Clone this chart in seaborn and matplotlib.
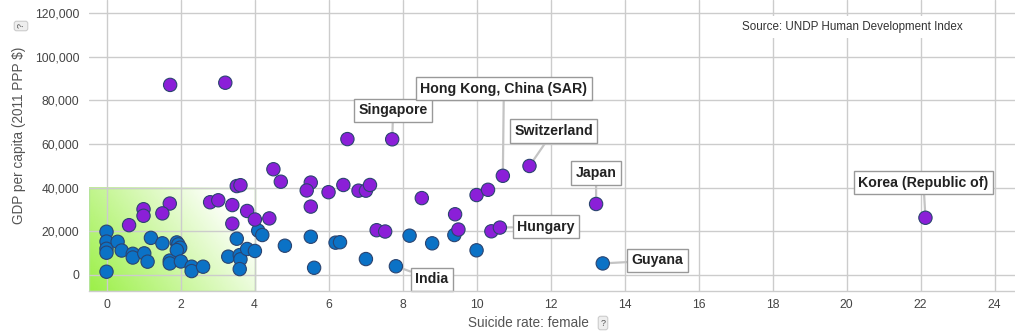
import numpy as np
import pandas as pd
import matplotlib
matplotlib.use("Agg")
import matplotlib.pyplot as plt
import seaborn as sns
from matplotlib.patches import Rectangle
from matplotlib.ticker import FuncFormatter, FixedLocator

# ---------------- data ----------------
purple_x = [1.72, 3.21, 4.51, 4.71, 3.52, 3.62, 2.80, 3.02, 1.71, 1.51, 1.00, 1.00,
            0.61, 3.40, 3.40, 3.80, 4.01, 4.40, 6.51, 7.72, 5.52, 5.41, 6.00, 6.40,
            6.81, 7.01, 7.12, 5.52, 8.52, 9.42, 9.51, 7.30, 7.53, 10.00, 10.31, 10.71,
            11.43, 10.40, 10.63, 13.23, 22.13]
purple_y = [87000, 88000, 48400, 42700, 40700, 41100, 33300, 34200, 32700, 28200, 30100, 27100,
            22800, 32000, 23500, 29300, 25400, 25900, 62200, 62100, 42300, 38700, 37900, 41200,
            38600, 38600, 41200, 31300, 35200, 27800, 20800, 20500, 19900, 36600, 39000, 45400,
            49900, 20000, 21700, 32500, 26200]

blue_x = [0.00, 0.00, 0.00, 0.00, 0.00, 0.30, 0.41, 0.71, 0.71, 1.02, 1.11, 1.20,
          1.51, 1.71, 1.71, 1.90, 1.94, 1.99, 1.90, 2.01, 2.30, 2.30, 2.61, 3.29,
          3.52, 3.60, 3.62, 3.60, 3.80, 4.01, 4.10, 4.21, 4.82, 5.52, 5.61, 6.19,
          6.31, 7.01, 7.82, 8.19, 8.80, 9.40, 10.00, 13.41]
blue_y = [19800, 15300, 12000, 10200, 1500, 15200, 11200, 9700, 8000, 9900, 6100, 17000,
          14500, 6600, 5300, 14900, 14000, 12500, 11400, 6200, 3800, 1800, 3800, 8400,
          16600, 9100, 7200, 2700, 11900, 11000, 20300, 18300, 13400, 17500, 3300, 14800,
          15000, 7300, 4000, 18000, 14500, 18300, 11300, 5300]

label_names = ["Singapore", "Hong Kong, China (SAR)", "Switzerland", "Japan",
               "Hungary", "Guyana", "India", "Korea (Republic of)"]
label_series = ["purple", "purple", "purple", "purple", "purple", "blue", "blue", "purple"]
label_index = [19, 35, 36, 39, 38, 43, 38, 40]

x_ticks = [0, 2, 4, 6, 8, 10, 12, 14, 16, 18, 20, 22, 24]
y_ticks = [0, 20000, 40000, 60000, 80000, 100000, 120000]
highlight_x = [None, 4]
highlight_y = [None, 40000]

x_title = "Suicide rate: female"
y_title = "GDP per capita (2011 PPP $)"
source = "Source: UNDP Human Development Index"

# ---------------- figure ----------------
sns.set_style("white")
plt.rcParams["font.family"] = ["Liberation Sans", "DejaVu Sans"]

W, H = 1015, 331
fig = plt.figure(figsize=(W / 100, H / 100), dpi=100)
ax = fig.add_axes([89 / W, 40 / H, (W - 89) / W, 291 / H])

xlim = (-0.473, 24.55)
ylim = (-7323, 125860)

df = pd.concat([
    pd.DataFrame({"x": blue_x, "y": blue_y, "group": "blue"}),
    pd.DataFrame({"x": purple_x, "y": purple_y, "group": "purple"}),
], ignore_index=True)

palette = {"blue": "#0b72c6", "purple": "#8b1fd8"}
sns.scatterplot(data=df, x="x", y="y", hue="group", palette=palette, s=92,
                edgecolor="#2b4470", linewidth=0.8, legend=False, ax=ax, zorder=3)

# gradient highlight box
x0, x1 = xlim[0], highlight_x[1]
y0, y1 = ylim[0], highlight_y[1]
nx, ny = 200, 100
u = np.linspace(0, 1, nx)[None, :]
v = np.linspace(0, 1, ny)[:, None]
alpha = np.clip(1 - 0.8 * u - 0.38 * v, 0, 1)
img = np.zeros((ny, nx, 4))
img[..., 0] = 155 / 255
img[..., 1] = 240 / 255
img[..., 2] = 70 / 255
img[..., 3] = alpha
ax.imshow(img, extent=[x0, x1, y0, y1], origin="lower", aspect="auto",
          zorder=0.2, interpolation="bilinear")
ax.add_patch(Rectangle((x0, y0), x1 - x0, y1 - y0, fill=False,
                       edgecolor="#b5e59a", lw=1.0, zorder=0.3))

ax.set_xlim(*xlim)
ax.set_ylim(*ylim)

ax.xaxis.set_major_locator(FixedLocator(x_ticks))
ax.yaxis.set_major_locator(FixedLocator(y_ticks))
ax.yaxis.set_major_formatter(FuncFormatter(lambda v, p: f"{int(v):,}"))
ax.grid(True, color="#cccccc", lw=1.0)
ax.set_axisbelow(True)
for s in ["left", "right", "top"]:
    ax.spines[s].set_visible(False)
ax.spines["bottom"].set_color("#cccccc")
ax.spines["bottom"].set_linewidth(1.0)

ax.tick_params(axis="y", length=5, width=1, color="#cccccc", pad=2,
               labelsize=8.7, labelcolor="#444444")
ax.tick_params(axis="x", length=0, pad=6, labelsize=8.7, labelcolor="#444444")
ax.set_xlabel("")
ax.set_ylabel("")

# axis titles
fig.text(528 / W, 1 - 323 / H, x_title, ha="center", va="center",
         fontsize=9.8, color="#555555")
fig.text(603 / W, 1 - 323 / H, "?", ha="center", va="center", fontsize=6.5,
         color="#555555",
         bbox=dict(boxstyle="round,pad=0.25", fc="#eeeeee", ec="#cccccc", lw=0.8))
fig.text(19 / W, 1 - 135 / H, y_title, ha="center", va="center", rotation=90,
         fontsize=9.8, color="#555555")
fig.text(21 / W, 1 - 26 / H, "?", ha="center", va="center", rotation=90,
         fontsize=6.5, color="#555555",
         bbox=dict(boxstyle="round,pad=0.25", fc="#eeeeee", ec="#cccccc", lw=0.8))

# source text
fig.text(852 / W, 1 - 27 / H, source, ha="center", va="center", fontsize=8.4,
         color="#333333",
         bbox=dict(boxstyle="square,pad=0.4", fc="white", ec="none"))

# labels (offsets in pixels: layout)
offsets = [(1, 29), (1, 87), (24, 35), (0, 31), (46, 1), (55, 3), (36, -13), (-2, 35)]
series = {"purple": (purple_x, purple_y), "blue": (blue_x, blue_y)}
for name, ser, idx, off in zip(label_names, label_series, label_index, offsets):
    xs, ys = series[ser]
    ax.annotate(name, xy=(xs[idx], ys[idx]), xytext=off, textcoords="offset pixels",
                ha="center", va="center", fontsize=10.2, fontweight="bold",
                color="#222222", zorder=2.5, annotation_clip=False,
                bbox=dict(boxstyle="square,pad=0.32", fc="white", ec="#999999", lw=1.0),
                arrowprops=dict(arrowstyle="-", color="#c4c4c4", lw=1.6,
                                shrinkA=0, shrinkB=0))

fig.savefig("out.png", dpi=100)
